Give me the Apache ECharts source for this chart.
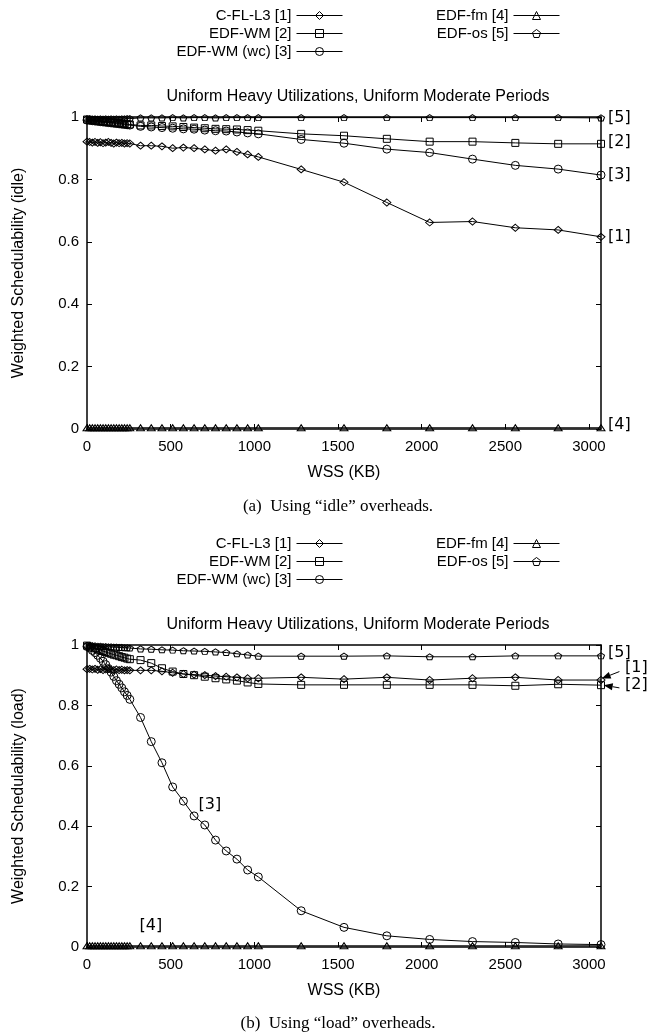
<!DOCTYPE html>
<html><head><meta charset="utf-8">
<script src="https://cdn.jsdelivr.net/npm/echarts@6/dist/echarts.min.js"></script>
<style>html,body{margin:0;padding:0;background:#fff}#c{width:650px;height:1032px}</style>
</head><body><div id="c"></div>
<script>
// ---- data ----
const wss = [0,16,32,48,64,80,96,112,128,144,160,176,192,208,224,240,256,320,384,448,512,576,640,704,768,832,896,960,1024,1280,1536,1792,2048,2304,2560,2816,3072];
const names = ['C-FL-L3 [1]','EDF-WM [2]','EDF-WM (wc) [3]','EDF-fm [4]','EDF-os [5]'];
const xTicks = [0,500,1000,1500,2000,2500,3000];
const yTicks = [0,0.2,0.4,0.6,0.8,1];
const yTickLabels = ['0','0.2','0.4','0.6','0.8','1'];

const idleCFL = [0.921,0.920,0.918,0.920,0.917,0.919,0.916,0.918,0.920,0.917,0.915,0.918,0.916,0.917,0.915,0.916,0.915,0.908,0.908,0.906,0.900,0.902,0.900,0.896,0.892,0.896,0.888,0.880,0.872,0.832,0.791,0.726,0.662,0.665,0.645,0.638,0.616];
const idleWM  = [0.992,0.991,0.990,0.989,0.988,0.987,0.986,0.985,0.984,0.983,0.982,0.981,0.980,0.979,0.978,0.977,0.976,0.973,0.973,0.971,0.970,0.968,0.966,0.964,0.962,0.961,0.960,0.958,0.956,0.946,0.940,0.930,0.921,0.921,0.917,0.914,0.914];
const idleWC  = [0.990,0.989,0.988,0.987,0.986,0.985,0.984,0.983,0.982,0.981,0.980,0.979,0.978,0.977,0.976,0.975,0.974,0.970,0.968,0.966,0.964,0.962,0.961,0.958,0.956,0.955,0.952,0.949,0.946,0.928,0.916,0.897,0.886,0.865,0.845,0.833,0.814];
const idleFM  = [0.004,0.004,0.004,0.004,0.004,0.004,0.004,0.004,0.004,0.004,0.004,0.004,0.004,0.004,0.004,0.004,0.004,0.004,0.004,0.004,0.004,0.004,0.004,0.004,0.004,0.004,0.004,0.004,0.004,0.004,0.004,0.004,0.004,0.004,0.004,0.004,0.004];
const idleOS  = [0.994,0.994,0.993,0.994,0.993,0.994,0.993,0.994,0.993,0.994,0.993,0.994,0.993,0.994,0.994,0.995,0.995,0.997,0.997,0.997,0.998,0.997,0.998,0.998,0.997,0.998,0.998,0.998,0.998,0.998,0.998,0.998,0.998,0.998,0.998,0.998,0.997];

const loadCFL = [0.920,0.921,0.919,0.921,0.918,0.920,0.917,0.919,0.921,0.918,0.917,0.919,0.917,0.918,0.916,0.917,0.916,0.916,0.916,0.913,0.908,0.904,0.902,0.900,0.897,0.895,0.893,0.890,0.890,0.893,0.887,0.893,0.884,0.890,0.893,0.884,0.884];
const loadWM  = [0.998,0.995,0.992,0.989,0.986,0.983,0.980,0.977,0.974,0.971,0.968,0.966,0.963,0.960,0.958,0.955,0.953,0.950,0.940,0.923,0.912,0.904,0.900,0.895,0.890,0.886,0.882,0.876,0.871,0.868,0.868,0.868,0.868,0.868,0.865,0.870,0.867];
const loadWC  = [0.995,0.990,0.982,0.975,0.966,0.956,0.946,0.935,0.922,0.910,0.896,0.882,0.870,0.858,0.845,0.833,0.820,0.760,0.680,0.610,0.530,0.483,0.434,0.404,0.354,0.318,0.291,0.255,0.232,0.120,0.065,0.037,0.025,0.018,0.015,0.010,0.008];
const loadFM  = [0.004,0.004,0.004,0.004,0.004,0.004,0.004,0.004,0.004,0.004,0.004,0.004,0.004,0.004,0.004,0.004,0.004,0.004,0.004,0.004,0.004,0.004,0.004,0.004,0.004,0.004,0.004,0.004,0.004,0.004,0.004,0.004,0.004,0.004,0.004,0.004,0.004];
const loadOS  = [0.998,0.998,0.997,0.997,0.996,0.996,0.995,0.995,0.994,0.994,0.993,0.993,0.992,0.992,0.991,0.991,0.990,0.987,0.986,0.984,0.983,0.981,0.980,0.979,0.977,0.975,0.971,0.967,0.963,0.963,0.963,0.964,0.961,0.961,0.964,0.964,0.964];

const titleText = 'Uniform Heavy Utilizations, Uniform Moderate Periods';
const xName = 'WSS (KB)';
const yNames = ['Weighted Schedulability (idle)','Weighted Schedulability (load)'];
const captions = ['(a)  Using \u201cidle\u201d overheads.','(b)  Using \u201cload\u201d overheads.'];

// ---- styling / layout ----
const SANS = 'Liberation Sans';
const PENT = 'path://M0,-10L9.51,-3.09L5.88,8.09L-5.88,8.09L-9.51,-3.09Z';
const symbols = ['diamond','rect','circle','triangle',PENT];
const sizes = [[8,7],[7,7],[8,8],[8,6],[7,6]];
const grids = [{top:117,height:312},{top:645,height:302}];
const LEFT = 87, RIGHT = 49;

function mkSeries(vals, k, g){
  return {
    type:'line', name:names[k], xAxisIndex:g*2, yAxisIndex:g*2,
    data: wss.map((x,i)=>[x, vals[i]]),
    symbol:symbols[k], symbolSize:sizes[k], showAllSymbol:true,
    lineStyle:{color:'#000',width:1},
    itemStyle:{color:'rgba(255,255,255,0)',borderColor:'#000',borderWidth:1},
    emphasis:{disabled:true}, animation:false, z: 3
  };
}
const series = [];
[[idleCFL,idleWM,idleWC,idleFM,idleOS],[loadCFL,loadWM,loadWC,loadFM,loadOS]].forEach((set,g)=>{
  set.forEach((vals,k)=>series.push(mkSeries(vals,k,g)));
});

const axisLine = {show:true,onZero:false,lineStyle:{color:'#000',width:1.5}};
const tick = {show:true,inside:true,length:5,lineStyle:{color:'#000',width:1}};
const lbl = {color:'#000',fontFamily:SANS,fontSize:15};
const nameLbl = {color:'#000',fontFamily:SANS,fontSize:16};
const xAxes = [], yAxes = [];
grids.forEach((g,gi)=>{
  xAxes.push({type:'value',gridIndex:gi,min:0,max:3072,interval:500,position:'bottom',
    axisLine, axisTick:tick, splitLine:{show:false},
    axisLabel:Object.assign({margin:10,showMaxLabel:false,formatter:v=>xTicks.includes(v)?String(v):''},lbl),
    name:xName,nameLocation:'middle',nameGap:36,nameTextStyle:nameLbl});
  xAxes.push({type:'value',gridIndex:gi,min:0,max:3072,interval:500,position:'top',
    axisLine, axisTick:tick, splitLine:{show:false}, axisLabel:{show:false}});
  yAxes.push({type:'value',gridIndex:gi,min:0,max:1,interval:0.2,position:'left',
    axisLine, axisTick:tick, splitLine:{show:false},
    axisLabel:Object.assign({margin:8,formatter:v=>{const i=yTicks.findIndex(t=>Math.abs(t-v)<1e-6);return i>=0?yTickLabels[i]:'';}},lbl),
    name:yNames[gi],nameLocation:'middle',nameGap:60,nameRotate:90,nameTextStyle:nameLbl});
  yAxes.push({type:'value',gridIndex:gi,min:0,max:1,interval:0.2,position:'right',
    axisLine, axisTick:tick, splitLine:{show:false}, axisLabel:{show:false}});
});

const legCommon = {orient:'vertical',align:'right',itemWidth:46,itemHeight:10,itemGap:3,padding:0,
  selectedMode:false,
  itemStyle:{color:'rgba(0,0,0,0)',borderColor:'#000',borderWidth:1},
  lineStyle:{color:'#000',width:1},
  textStyle:{color:'#000',fontFamily:SANS,fontSize:15,lineHeight:14.5}};
const legends = [];
[8,536].forEach(top=>{
  legends.push(Object.assign({data:names.slice(0,3),right:307,top},legCommon));
  legends.push(Object.assign({data:names.slice(3),right:90,top},legCommon));
});

const titleStyle = {fontFamily:SANS,fontSize:16,fontWeight:'normal',color:'#000'};
const capStyle = {fontFamily:'Liberation Serif',fontSize:17,fontWeight:'normal',color:'#000'};
const titles = [
  {text:titleText,left:353,textAlign:'center',top:84,textStyle:titleStyle},
  {text:titleText,left:353,textAlign:'center',top:612,textStyle:titleStyle},
  {text:captions[0],left:333,textAlign:'center',top:493,textStyle:capStyle},
  {text:captions[1],left:333,textAlign:'center',top:1010,textStyle:capStyle}
];

const chart = echarts.init(document.getElementById('c'),null,{renderer:'canvas'});
chart.setOption({
  animation:false, backgroundColor:'#fff',
  title:titles, legend:legends,
  grid:grids.map(g=>({left:LEFT,right:RIGHT,top:g.top,height:g.height,containLabel:false})),
  xAxis:xAxes, yAxis:yAxes, series
});

// ---- annotations placed through the axes ----
const ANN = {fontFamily:'DejaVu Sans',fontSize:16,fill:'#000'};
function px(g,pt){return chart.convertToPixel({gridIndex:g},pt);}
const last = a=>a[a.length-1];
const xMax = last(wss);
const gfx = [];
function txt(g,pt,s,dx,dy,align){const p=px(g,pt);gfx.push({type:'text',x:p[0]+dx,y:p[1]+dy,style:Object.assign({text:s,align:align||'left',verticalAlign:'middle'},ANN),z:10});}
function arrow(g,from,to){
  const a=px(g,from), b=px(g,to);
  const ang=Math.atan2(b[1]-a[1],b[0]-a[0]); const L=9,W=3.5;
  const bx=b[0]-L*Math.cos(ang), by=b[1]-L*Math.sin(ang);
  gfx.push({type:'line',shape:{x1:a[0],y1:a[1],x2:bx,y2:by},style:{stroke:'#000',lineWidth:1},z:10});
  gfx.push({type:'polygon',shape:{points:[[b[0],b[1]],[bx+W*Math.sin(ang),by-W*Math.cos(ang)],[bx-W*Math.sin(ang),by+W*Math.cos(ang)]]},style:{fill:'#000'},z:10});
}
// top chart
txt(0,[xMax,last(idleOS)],'[5]',7,0);
txt(0,[xMax,last(idleWM)],'[2]',7,-2);
txt(0,[xMax,last(idleWC)],'[3]',7,0);
txt(0,[xMax,last(idleCFL)],'[1]',7,0);
txt(0,[xMax,last(idleFM)],'[4]',7,-3);
// bottom chart
txt(1,[xMax,last(loadOS)],'[5]',7,-3);
txt(1,[xMax,0.923],'[1]',24,0);
txt(1,[xMax,0.868],'[2]',24,0);
arrow(1,[3182,0.912],[3076,0.889]);
arrow(1,[3182,0.858],[3088,0.867]);
txt(1,[734,0.47],'[3]',0,0,'center');
txt(1,[382,0.07],'[4]',0,0,'center');
chart.setOption({graphic:gfx});
</script></body></html>
